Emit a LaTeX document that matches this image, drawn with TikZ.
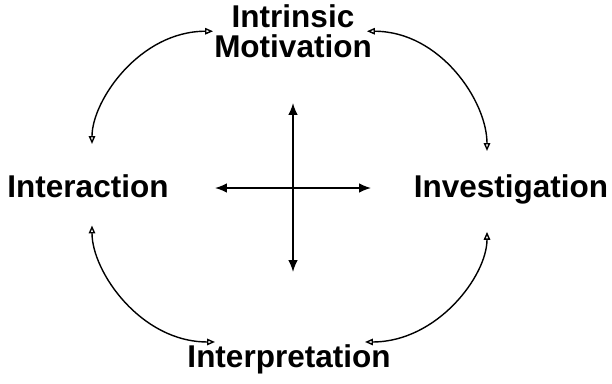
\documentclass[tikz,border=0pt]{standalone}
\usepackage{fontspec}
\setmainfont{Liberation Sans}
\usetikzlibrary{arrows.meta}

\begin{document}
\begin{tikzpicture}[
    x=1pt,y=1pt,
    font=\fontsize{31.5}{30}\selectfont\bfseries,
    term/.style={inner sep=0pt,align=center},
    loop arrow/.style={{Triangle[open,length=2.8mm,width=2.3mm]}-{Triangle[open,length=2.8mm,width=2.3mm]},line width=1.4pt},
    axis arrow/.style={{Latex[length=4.2mm,width=3.4mm]}-{Latex[length=4.2mm,width=3.4mm]},line width=1.6pt}
  ]
    \useasboundingbox (-293,-195) rectangle (319,188);
    % the four terms
    \node[term,anchor=south] (mot) at (0,130) {Intrinsic\\Motivation};
    \node[term,anchor=base] (inter) at (-205,-9) {Interaction};
    \node[term,anchor=base] (inv) at (218,-9) {Investigation};
    \node[term,anchor=base] (interp) at (-4,-179) {Interpretation};
    % cross in the middle
    \coordinate (axtop) at (0,85);
    \coordinate (axbot) at (0,-84);
    \coordinate (axl) at (-78,0);
    \coordinate (axr) at (78,0);
    \draw[axis arrow] (axtop) -- (axbot);
    \draw[axis arrow] (axl) -- (axr);
    % curved links round the outside
    \draw[loop arrow,shorten <=30pt] ([xshift=4pt]inter.north) to[out=90,in=180] ([xshift=-1pt]mot.west);
    \draw[loop arrow,shorten >=23pt] ([xshift=-5pt]mot.east) to[out=0,in=90] ([xshift=-24pt]inv.north);
    \draw[loop arrow,shorten <=28pt] ([xshift=4pt]inter.south) to[out=-90,in=180] ([xshift=-74pt,yshift=2pt]interp.north);
    \draw[loop arrow,shorten <=28pt] ([xshift=-24pt]inv.south) to[out=-90,in=0] ([xshift=76pt,yshift=2pt]interp.north);
  \end{tikzpicture}
\end{document}
